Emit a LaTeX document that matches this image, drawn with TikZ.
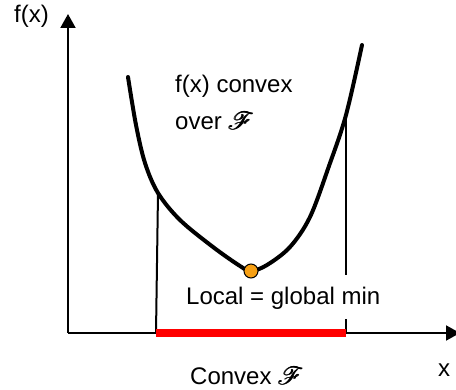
\documentclass[tikz,border=0pt]{standalone}
\usepackage{fontspec}
\setmainfont{Liberation Sans}
\usepackage{amsmath}
\usepackage{mathrsfs}
\usetikzlibrary{arrows.meta, positioning}
\definecolor{mindot}{RGB}{247,160,20}
\newcommand{\feasF}{$\pmb{\mathscr{F}}$}
\tikzset{
    convexfig/.style={x=1pt, y=-1pt, >={Triangle[length=14pt, width=15pt]},
        font=\fontsize{24}{28}\selectfont},
    axis/.style={line width=2pt},
    fcurve/.style={line width=4pt, line join=round, line cap=round},
    bound/.style={line width=2pt},
    feasset/.style={draw=red, line width=8pt},
    minpt/.style={circle, draw, fill=mindot, line width=1pt, minimum size=14pt, inner sep=0pt},
    lbl/.style={inner sep=0pt, anchor=base west},
    % white box over the right bound line
    mask/.style={lbl, fill=white, text height=30pt, text depth=14pt},
}

\begin{document}
\begin{tikzpicture}[convexfig]
    \useasboundingbox (0,0) rectangle (456,390);

    \coordinate (O)  at (68,333);
    \coordinate (yt) at (68,14);
    \coordinate (xt) at (460,333);
    \coordinate (lo) at (156,333);
    \coordinate (ro) at (346,333);
    \coordinate (lc) at (158,193);
    \coordinate (rc) at (346,115);

    \draw[axis, ->] (O) -- (yt);
    \draw[axis, ->] (O) -- (xt);

    \draw[bound] (lo) -- (lc);
    \draw[bound] (ro) -- (rc);
    \draw[feasset] (lo) -- (ro);

    \node[mask] (gmin) at (186,305) {Local = global min};

    \draw[fcurve] plot[smooth, tension=0.55] coordinates {
        (128,77) (136,125) (145,163) (lc) (180,220) (213,247) (240,266) (251,271)
        (267,265) (290,247) (310,217) (329,166) (rc) (362,45)};
    \node[minpt] (xmin) at (251,271) {};

    \node[lbl] (fx)   at (14,23)  {f(x)};
    \node[lbl] (conv) at (175,93) {f(x) convex};
    \node[lbl] (over) at (175,130) {over \feasF};
    \node[lbl] (cset) at (190,385) {Convex \feasF};
    \node[lbl] (xl)   at (438,377) {x};
\end{tikzpicture}
\end{document}
